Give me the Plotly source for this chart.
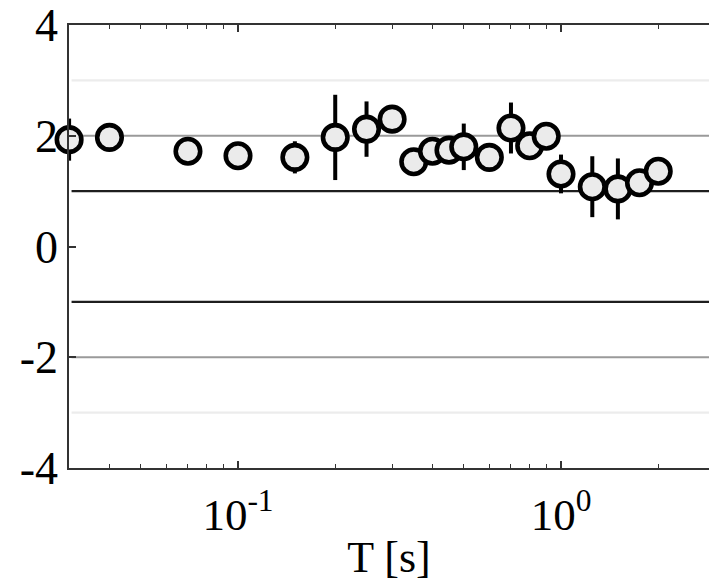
import plotly.graph_objects as go

# Period T [s] and normalised residual with its uncertainty
period = [0.03, 0.04, 0.07, 0.10, 0.15, 0.20, 0.25, 0.30, 0.35, 0.40, 0.45,
          0.50, 0.60, 0.70, 0.80, 0.90, 1.00, 1.25, 1.50, 1.75, 2.00]
residual = [1.93, 1.97, 1.72, 1.64, 1.61, 1.97, 2.12, 2.30, 1.53, 1.72, 1.74,
            1.80, 1.61, 2.14, 1.82, 1.99, 1.31, 1.08, 1.04, 1.15, 1.36]
error = [0.38, 0.12, 0.12, 0.12, 0.29, 0.77, 0.50, 0.12, 0.12, 0.12, 0.12,
         0.42, 0.12, 0.46, 0.12, 0.12, 0.35, 0.55, 0.55, 0.12, 0.12]

# Reference levels: ±1 (strong), ±2 (medium), ±3 (faint)
ref_levels = [1, -1, 2, -2, 3, -3]
ref_colors = ["#1e1e1e", "#1e1e1e", "#9a9a9a", "#9a9a9a", "#ececec", "#ececec"]

y_ticks = [-4, -2, 0, 2, 4]
x_major = [0.1, 1.0]
x_major_text = ["10<sup>-1</sup>", "10<sup>0</sup>"]
x_minor = [0.04, 0.05, 0.06, 0.07, 0.08, 0.09, 0.2, 0.3, 0.4, 0.5, 0.6,
           0.7, 0.8, 0.9, 2.0]

font_family = "Liberation Serif, Times New Roman, serif"

fig = go.Figure()

for lvl, col in zip(ref_levels, ref_colors):
    fig.add_shape(type="line", xref="paper", yref="y", x0=0.004, x1=1,
                  y0=lvl, y1=lvl, line=dict(color=col, width=2.2),
                  layer="below")

fig.add_trace(go.Scatter(
    x=period, y=residual, mode="markers",
    error_y=dict(type="data", array=error, visible=True, color="black",
                 thickness=4, width=0),
    marker=dict(symbol="circle", size=24.5, color="#ebebeb",
                line=dict(color="black", width=4.6)),
    cliponaxis=False, showlegend=False,
))

fig.update_layout(
    width=709, height=586,
    margin=dict(l=69, r=0, t=23, b=118),
    paper_bgcolor="white", plot_bgcolor="white",
    font=dict(family=font_family, size=45, color="black"),
    showlegend=False,
)

fig.update_xaxes(
    type="log", range=[-1.5232, 0.4582],
    tickmode="array", tickvals=x_major, ticktext=x_major_text,
    ticks="inside", ticklen=7, tickwidth=1.5, tickcolor="#333",
    showline=True, linecolor="#333", linewidth=1.5, mirror="ticks",
    showgrid=False, zeroline=False,
    minor=dict(tickmode="array", tickvals=x_minor, ticks="inside",
               ticklen=4, tickwidth=1.2, tickcolor="#333", showgrid=False),
    tickfont=dict(size=45), ticklabelstandoff=6,
    ticklabeloverflow="allow",
    title=dict(text="T [s]", font=dict(size=44), standoff=2),
)

fig.update_yaxes(
    range=[-4, 4], tickmode="array", tickvals=y_ticks,
    ticktext=[str(v) for v in y_ticks],
    ticks="inside", ticklen=7, tickwidth=1.5, tickcolor="#333",
    showline=True, linecolor="#333", linewidth=1.5,
    showgrid=False, zeroline=False,
    tickfont=dict(size=46), ticklabelstandoff=0,
    ticklabeloverflow="allow",
)

fig.write_html("out.html")
